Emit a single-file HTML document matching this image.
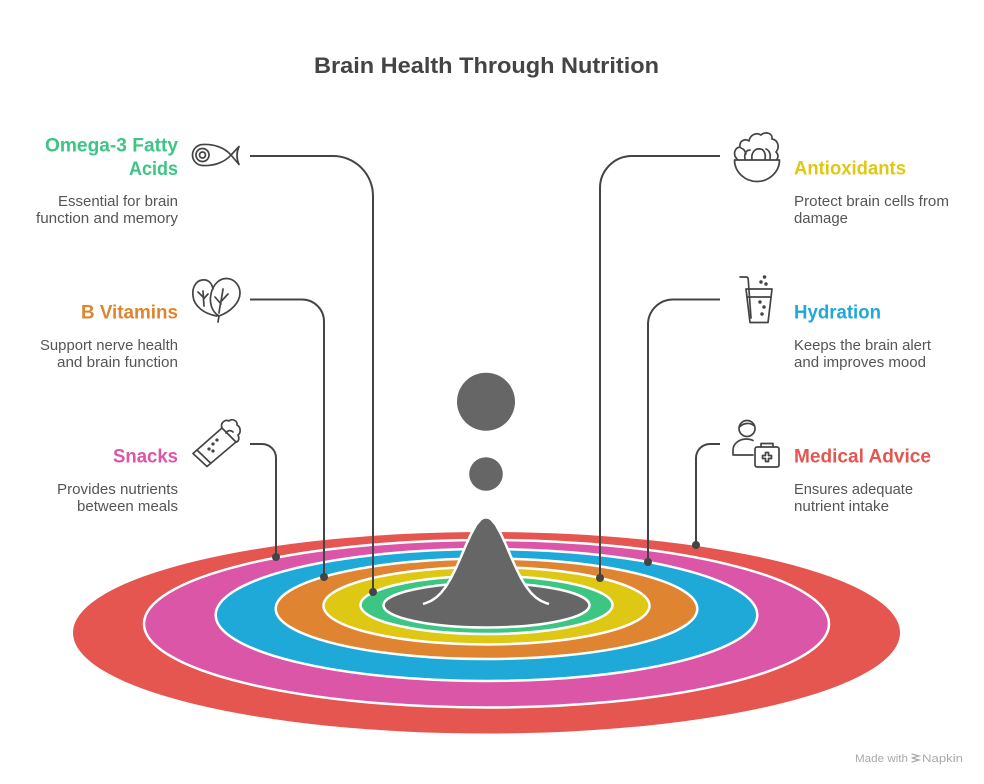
<!DOCTYPE html>
<html><head><meta charset="utf-8"><style>
html,body{margin:0;padding:0;background:#fff;}
svg{display:block;}
text{font-family:"Liberation Sans",Arial,sans-serif;}
</style></head><body>
<svg width="984" height="784" viewBox="0 0 984 784" xmlns="http://www.w3.org/2000/svg">
<rect width="984" height="784" fill="#fff"/>
<text x="486.5" y="73" text-anchor="middle" font-size="22" font-weight="bold" fill="#444" textLength="345" lengthAdjust="spacingAndGlyphs">Brain Health Through Nutrition</text>

<!-- rings -->
<g stroke="#fff" stroke-width="2.5">
<ellipse cx="486.5" cy="632.75" rx="413.5" ry="100.75" fill="#E4564F" stroke="none"/>
<ellipse cx="486.5" cy="623.75" rx="342.5" ry="83.75" fill="#DC56A8"/>
<ellipse cx="486.5" cy="615" rx="270.8" ry="66" fill="#1EA9D8"/>
<ellipse cx="486.5" cy="608.75" rx="210.8" ry="50.25" fill="#DF8430"/>
<ellipse cx="486.5" cy="605.75" rx="163" ry="38.75" fill="#DFC813"/>
<ellipse cx="486.5" cy="605" rx="126" ry="29" fill="#3CC583"/>
<ellipse cx="486.5" cy="605.25" rx="103" ry="22.25" fill="#666"/>
</g>

<!-- peak -->
<path d="M423 604 L426 603 L431 600.9 L436 597.6 L441 592.9 L446 586.4 L451 578.1 L456 568 L461 556.7 L466 545 L471 534.1 L476 525 L481 519.1 Q486 515.5 491 519.1 L496 525 L501 534.1 L506 545 L511 556.7 L516 568 L521 578.1 L526 586.4 L531 592.9 L536 597.6 L541 600.9 L546 603 L549 604 L549 612 L423 612 Z" fill="#666"/>
<path d="M423 604 L426 603 L431 600.9 L436 597.6 L441 592.9 L446 586.4 L451 578.1 L456 568 L461 556.7 L466 545 L471 534.1 L476 525 L481 519.1 Q486 515.5 491 519.1 L496 525 L501 534.1 L506 545 L511 556.7 L516 568 L521 578.1 L526 586.4 L531 592.9 L536 597.6 L541 600.9 L546 603 L549 604" fill="none" stroke="#fff" stroke-width="2.5" stroke-linejoin="round"/>

<circle cx="486" cy="401.7" r="29" fill="#666"/>
<circle cx="486" cy="474" r="16.8" fill="#666"/>

<!-- connectors -->
<g fill="none" stroke="#444" stroke-width="2">
<path d="M250 156 H333 A40 40 0 0 1 373 196 V592"/>
<path d="M250 299.5 H302 A22 22 0 0 1 324 321.5 V577"/>
<path d="M250 444 H262 A14 14 0 0 1 276 458 V557"/>
<path d="M720 156 H632 A32 32 0 0 0 600 188 V578"/>
<path d="M720 299.5 H673 A25 25 0 0 0 648 324.5 V562"/>
<path d="M720 444 H710 A14 14 0 0 0 696 458 V545"/>
</g>
<g fill="#444">
<circle cx="373" cy="592" r="4"/>
<circle cx="324" cy="577" r="4"/>
<circle cx="276" cy="557" r="4"/>
<circle cx="600" cy="578" r="4"/>
<circle cx="648" cy="562" r="4"/>
<circle cx="696" cy="545" r="4"/>
</g>

<!-- left text -->
<g text-anchor="end" font-weight="bold" font-size="19">
<text x="178" y="151.5" fill="#3CC583" textLength="133" lengthAdjust="spacingAndGlyphs">Omega-3 Fatty</text>
<text x="178" y="175" fill="#3CC583" textLength="49" lengthAdjust="spacingAndGlyphs">Acids</text>
<text x="178" y="318.5" fill="#DF8430" textLength="97" lengthAdjust="spacingAndGlyphs">B Vitamins</text>
<text x="178" y="462.5" fill="#DC56A8" textLength="65" lengthAdjust="spacingAndGlyphs">Snacks</text>
</g>
<g text-anchor="end" font-size="15" fill="#555">
<text x="178" y="206" textLength="120" lengthAdjust="spacingAndGlyphs">Essential for brain</text>
<text x="178" y="223" textLength="142" lengthAdjust="spacingAndGlyphs">function and memory</text>
<text x="178" y="350" textLength="138" lengthAdjust="spacingAndGlyphs">Support nerve health</text>
<text x="178" y="367" textLength="121" lengthAdjust="spacingAndGlyphs">and brain function</text>
<text x="178" y="494" textLength="121" lengthAdjust="spacingAndGlyphs">Provides nutrients</text>
<text x="178" y="511" textLength="101" lengthAdjust="spacingAndGlyphs">between meals</text>
</g>

<!-- right text -->
<g font-weight="bold" font-size="19">
<text x="794" y="174.5" fill="#DFC813" textLength="112" lengthAdjust="spacingAndGlyphs">Antioxidants</text>
<text x="794" y="318.5" fill="#1EA9D8" textLength="87" lengthAdjust="spacingAndGlyphs">Hydration</text>
<text x="794" y="462.5" fill="#E4564F" textLength="137" lengthAdjust="spacingAndGlyphs">Medical Advice</text>
</g>
<g font-size="15" fill="#555">
<text x="794" y="206" textLength="155" lengthAdjust="spacingAndGlyphs">Protect brain cells from</text>
<text x="794" y="223" textLength="54" lengthAdjust="spacingAndGlyphs">damage</text>
<text x="794" y="350" textLength="137" lengthAdjust="spacingAndGlyphs">Keeps the brain alert</text>
<text x="794" y="367" textLength="132" lengthAdjust="spacingAndGlyphs">and improves mood</text>
<text x="794" y="494" textLength="119" lengthAdjust="spacingAndGlyphs">Ensures adequate</text>
<text x="794" y="511" textLength="95" lengthAdjust="spacingAndGlyphs">nutrient intake</text>
</g>

<!-- icons -->
<g fill="none" stroke="#444" stroke-width="1.7" stroke-linecap="round" stroke-linejoin="round">
<!-- fish -->
<path d="M231 155 C224 147 213 144 203 144.5 A10.5 10.5 0 0 0 203 165.5 C213 166 224 163 231 155 Z"/>
<circle cx="202.5" cy="155" r="6.5"/>
<circle cx="202.5" cy="155" r="3"/>
<path d="M231 155 L239 146.5 Q235 155.5 239 164.5 Z"/>
<!-- spinach -->
<path d="M213 289 C212 283 208 279 202 280 C195 281 192 289 193 296 C194 306 204 314 217 316"/>
<path d="M219 316 C212 312 209 303 211 294 C213 284 220 278 227 278.5 C235 279 240 286 240 293 C240 303 230 312 219 316 Z"/>
<path d="M219 316 L218 322"/>
<path d="M219 313 C220 305 222 297 223 289"/>
<path d="M221.5 301 L228 294"/>
<path d="M221 304 L215 297"/>
<path d="M204 306 L203 291"/>
<path d="M203 297 L198 292"/>
<path d="M203.5 299 L208 294"/>
<!-- burrito -->
<path d="M193 453.5 L222 428 L236 442 L207 466.5 Z"/>
<path d="M197 450 L210.5 463"/>
<path d="M222 428 C220 423 225 419 229 421 C232 418 238 421 237 425 C241 427 241 433 238 435 C240 439 238 442 236 442"/>
<path d="M226 433 C228 430 231 430 233 432"/>
<circle cx="213" cy="444" r="0.8" fill="#444"/>
<circle cx="217" cy="440" r="0.8" fill="#444"/>
<circle cx="209" cy="449" r="0.8" fill="#444"/>
<circle cx="213" cy="451" r="0.8" fill="#444"/>
<!-- salad bowl -->
<path d="M734.5 160 H779.5 C779.5 172 769 181.5 757 181.5 C745 181.5 734.5 172 734.5 160 Z"/>
<path d="M737 159 C733 155 734 148 740 147 C739 141 745 138 749 141 C750 135 756 132 761 135 C765 131 773 133 772 139 C778 140 780 147 776 152 C779 155 778 158 777 159"/>
<path d="M745 159 C744 154 746 150 750 150"/>
<path d="M752 159 C751 153 755 148 760 149 C764 149 766 154 765 159"/>
<path d="M770 159 C771 154 769 150 766 149"/>
<path d="M741 148 C744 149 745 151 746 154"/>
<!-- glass -->
<path d="M746 289 H772 L768 322.5 H750 Z"/>
<path d="M747 297 H771"/>
<path d="M740 277 H746 Q748 277 748.2 279 L751 318"/>
<circle cx="761" cy="282" r="0.9" fill="#444"/>
<circle cx="764.5" cy="277" r="0.9" fill="#444"/>
<circle cx="766" cy="284" r="0.9" fill="#444"/>
<circle cx="760" cy="302" r="0.9" fill="#444"/>
<circle cx="764" cy="307" r="0.9" fill="#444"/>
<circle cx="762" cy="314" r="0.9" fill="#444"/>
<!-- doctor -->
<circle cx="747" cy="428.5" r="8"/>
<path d="M739.5 427 C743 423 750 422 754.5 426"/>
<path d="M753 440.5 C751 439.5 749 439 746 439 C739 439 733 444 733 450 V455 H753"/>
<rect x="755" y="447" width="24" height="20" rx="2"/>
<path d="M761 447 V443.5 H773 V447"/>
<path d="M765.5 452.5 H768.5 V455.5 H771.5 V458.5 H768.5 V461.5 H765.5 V458.5 H762.5 V455.5 H765.5 Z"/>
</g>

<!-- made with napkin -->
<text x="855" y="762" font-size="11" fill="#aaa" textLength="53" lengthAdjust="spacingAndGlyphs">Made with</text>
<g stroke="#aaa" stroke-width="1.2" fill="none" stroke-linecap="round">
<path d="M912 754 L919 756 L912 758 M912 758 L919 760 L912 762"/>
</g>
<text x="922" y="762" font-size="11" fill="#aaa" textLength="41" lengthAdjust="spacingAndGlyphs">Napkin</text>
</svg>
</body></html>
